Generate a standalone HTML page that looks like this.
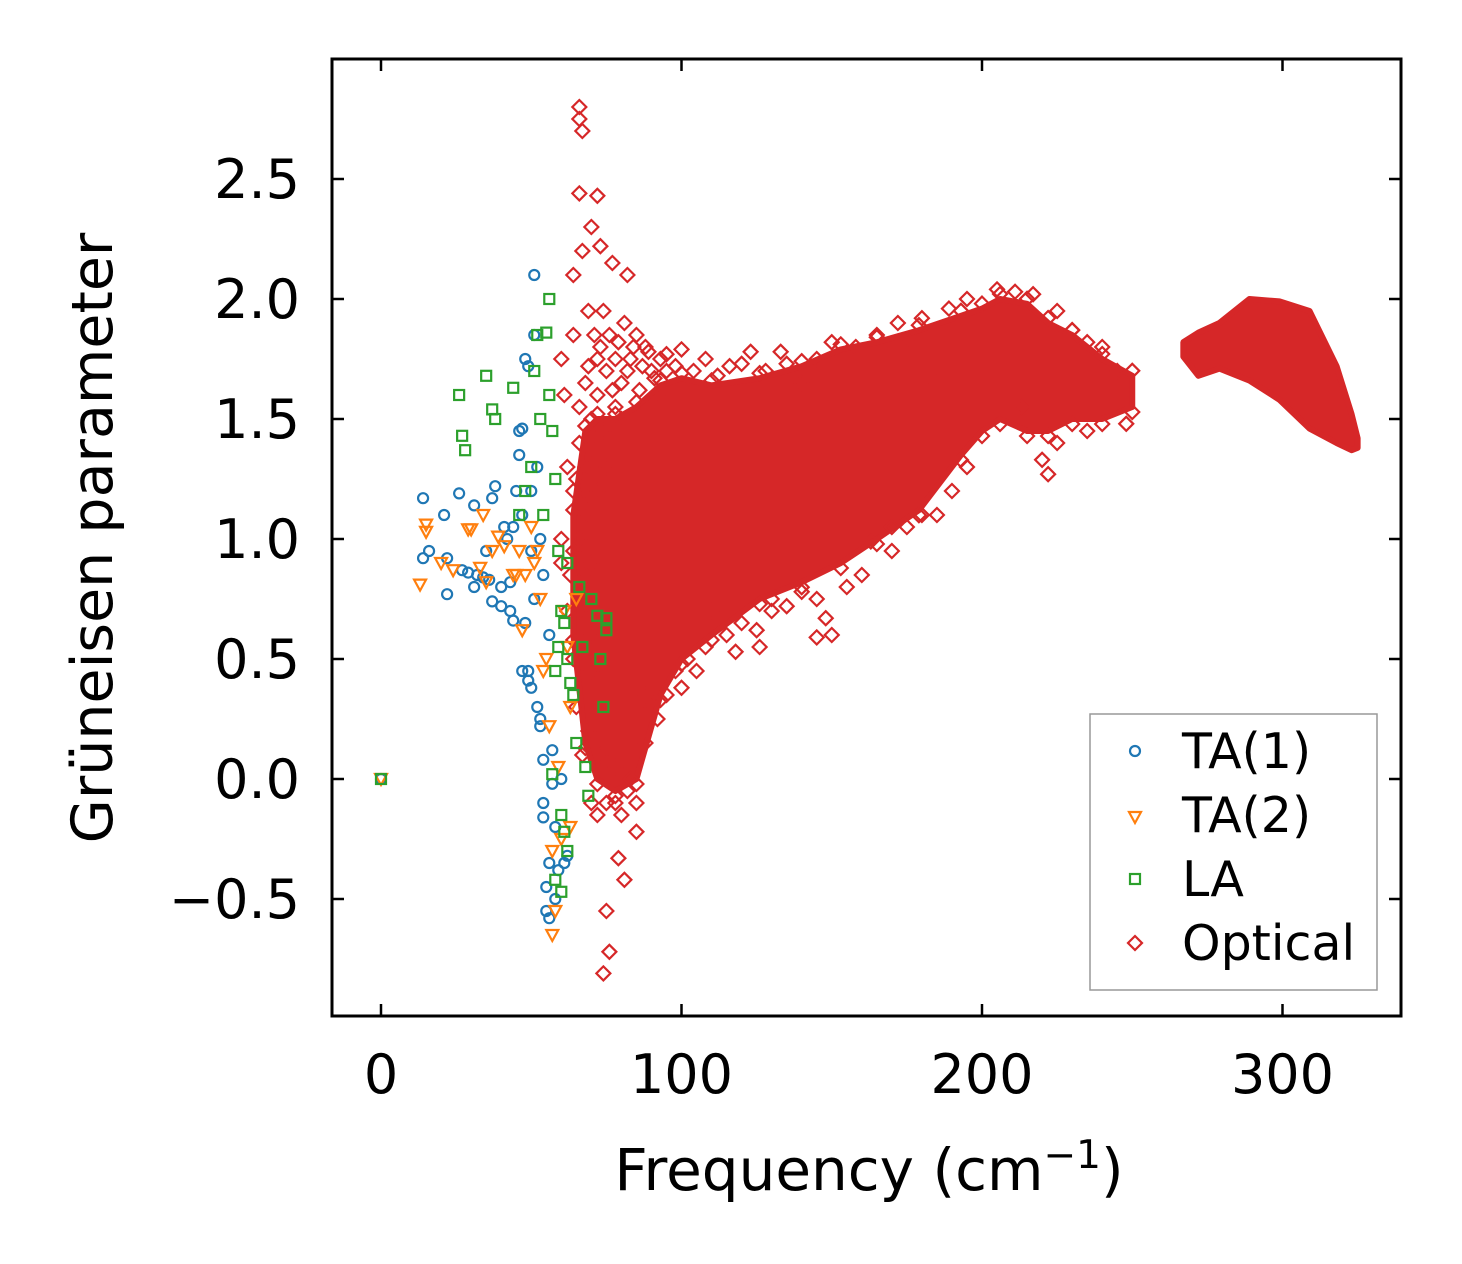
<!DOCTYPE html>
<html><head><meta charset="utf-8">
<style>
html,body{margin:0;padding:0;background:#fff;}
svg{display:block;font-family:"DejaVu Sans","Liberation Sans",sans-serif;}
</style></head>
<body>
<svg id="chart" width="1462" height="1264" viewBox="0 0 1462 1264">
<rect x="332" y="59" width="1069" height="957" fill="#fff" stroke="none"/>
<g id="marks"></g>
<rect x="332" y="59" width="1069" height="957" fill="none" stroke="#000" stroke-width="3"/>
<g id="axes"></g>
<text x="869" y="1190" font-size="58" text-anchor="middle">Frequency (cm<tspan dy="-22" font-size="39">−1</tspan><tspan dy="22">)</tspan></text>
<text transform="translate(112,538) rotate(-90)" font-size="57" text-anchor="middle">Grüneisen parameter</text>
<g>
<rect x="1090" y="714" width="287" height="276" fill="#fff" stroke="#999" stroke-width="1.5"/>
<g id="legend"></g>
</g>
</svg>
<script>
const xTicks=[0,100,200,300];
const yTicks=[-0.5,0.0,0.5,1.0,1.5,2.0,2.5];
const yTickLabels=["−0.5","0.0","0.5","1.0","1.5","2.0","2.5"];
const seriesNames=["TA(1)","TA(2)","LA","Optical"];
const ta1=[[0,0],[14,1.17],[14,0.92],[16,0.95],[21,1.1],[22,0.77],[22,0.92],[26,1.19],[27,0.87],[29,0.86],[31,1.14],[31,0.8],[32,0.85],[34,0.84],[35,0.95],[36,0.83],[37,1.17],[37,0.74],[38,1.22],[40,0.72],[40,0.8],[41,1.05],[42,1.0],[43,0.7],[43,0.82],[44,0.66],[45,1.2],[46,1.35],[46,1.45],[47,1.46],[47,0.45],[48,0.65],[48,1.75],[49,1.72],[49,0.45],[49,0.41],[50,1.2],[50,0.38],[51,2.1],[51,1.85],[51,0.75],[52,1.3],[52,0.3],[53,0.25],[53,0.22],[54,0.08],[54,-0.1],[54,-0.16],[55,-0.45],[55,-0.55],[56,-0.58],[56,-0.35],[57,-0.02],[57,0.12],[58,-0.2],[58,-0.5],[59,-0.38],[60,0.0],[61,-0.35],[62,-0.32],[53,1.0],[54,0.85],[56,0.6],[50,0.95],[47,1.1],[44,1.05]];
const ta2=[[0,0],[13,0.81],[15,1.06],[15,1.03],[20,0.9],[24,0.87],[29,1.04],[30,1.04],[33,0.88],[34,1.1],[35,0.82],[37,0.95],[39,1.01],[41,0.97],[44,0.85],[45,0.85],[46,0.95],[47,0.62],[48,0.85],[50,1.05],[51,0.9],[53,0.75],[54,0.45],[55,0.5],[56,0.22],[57,-0.3],[57,-0.65],[58,-0.55],[59,0.05],[60,-0.25],[61,0.7],[62,0.55],[63,0.3],[63,-0.2],[65,0.75],[52,0.95]];
const la=[[0,0],[26,1.6],[27,1.43],[28,1.37],[35,1.68],[37,1.54],[38,1.5],[44,1.63],[46,1.1],[48,1.2],[50,1.3],[51,1.7],[52,1.85],[53,1.5],[54,1.1],[55,1.86],[56,1.6],[56,2.0],[57,1.45],[58,1.25],[59,0.95],[60,0.7],[61,0.65],[62,0.5],[62,0.9],[63,0.4],[64,0.35],[65,0.15],[66,0.8],[67,0.55],[68,0.05],[69,-0.07],[70,0.75],[72,0.68],[73,0.5],[75,0.62],[75,0.67],[74,0.3],[60,-0.15],[62,-0.3],[58,-0.42],[60,-0.47],[61,-0.22],[57,0.02],[58,0.45],[59,0.55]];
const opticalScatter=[[66,2.8],[66,2.75],[67,2.7],[66,2.44],[72,2.43],[70,2.3],[73,2.22],[67,2.2],[77,2.15],[82,2.1],[64,2.1],[69,1.95],[64,1.85],[73,1.8],[79,1.82],[88,1.8],[95,1.77],[100,1.79],[108,1.75],[120,1.73],[123,1.78],[133,1.78],[140,1.65],[158,1.8],[175,1.83],[189,1.96],[211,2.03],[217,2.02],[230,1.87],[235,1.82],[222,1.27],[220,1.33],[213,1.55],[75,-0.55],[76,-0.72],[74,-0.81],[79,-0.33],[81,-0.42],[85,-0.22],[69,0.2],[70,-0.1],[72,-0.15],[73,0.1],[66,0.55],[61,1.6],[60,1.75],[150,0.6],[145,0.59],[148,0.67],[126,0.55],[118,0.53],[100,0.38],[92,0.25],[88,0.35],[163,0.99],[170,1.05],[185,1.1],[185,1.65],[110,0.7],[130,0.75],[140,0.78],[62,1.3],[64,1.2],[66,1.0],[60,0.9],[68,0.85],[70,0.6],[65,0.3],[67,0.1],[78,-0.1],[82,-0.05],[83,0.0]];
const opticalFringe=[[70,1.5],[72,1.6],[75,1.7],[78,1.55],[80,1.65],[83,1.75],[86,1.62],[90,1.7],[92,1.6],[95,1.7],[98,1.72],[104,1.7],[112,1.68],[116,1.72],[128,1.7],[135,1.73],[145,1.75],[150,1.82],[165,1.85],[172,1.9],[180,1.92],[195,2.0],[205,2.04],[225,1.95],[240,1.8],[245,1.7],[88,0.15],[90,0.3],[95,0.35],[98,0.45],[102,0.5],[105,0.45],[108,0.55],[115,0.6],[120,0.65],[125,0.62],[130,0.7],[135,0.72],[145,0.75],[155,0.8],[160,0.85],[170,0.95],[175,1.05],[180,1.1],[190,1.2],[195,1.3],[225,1.4],[235,1.45],[248,1.48],[60,1.0],[62,0.7],[64,0.5],[66,1.4],[68,1.1],[63,0.85],[70,0.45],[75,-0.1],[80,-0.15],[85,-0.1],[78,0.05],[68,1.3],[70,0.9],[66,0.7],[72,1.75],[76,1.85],[84,1.8],[68,1.65],[70,1.38],[74,1.45],[77,1.62],[80,1.5],[82,1.7],[85,1.85],[87,1.72],[89,1.78],[72,1.2],[75,1.3],[78,1.75],[81,1.9],[74,1.95],[71,1.85],[69,1.72],[66,1.55],[65,1.25],[67,1.15],[64,0.95],[66,0.82],[91,1.67],[93,1.75]];
const bandAFreq=[64,68,72,78,85,93,100,110,126,140,153,165,179,193,200,206,215,222,230,240,250];
const bandALow=[0.6,0.15,0.0,-0.05,0.0,0.35,0.5,0.6,0.75,0.82,0.9,1.0,1.12,1.35,1.45,1.5,1.45,1.45,1.5,1.5,1.55];
const bandAHigh=[1.1,1.45,1.5,1.5,1.55,1.64,1.67,1.64,1.67,1.72,1.79,1.82,1.87,1.93,1.96,2.0,1.98,1.9,1.85,1.75,1.68];
const bandBFreq=[267,272,279,289,299,309,318,323,325];
const bandBLow=[1.76,1.68,1.71,1.66,1.58,1.46,1.4,1.37,1.38];
const bandBHigh=[1.82,1.86,1.9,2.0,1.99,1.95,1.72,1.52,1.42];

const X0=381, XS=3.005, Y0=779, YS=240;
const sx=v=>X0+v*XS, sy=v=>Y0-v*YS;
const NS="http://www.w3.org/2000/svg";
const marks=document.getElementById('marks');
const axes=document.getElementById('axes');
function mk(tag,attrs,parent){const e=document.createElementNS(NS,tag);for(const k in attrs)e.setAttribute(k,attrs[k]);parent.appendChild(e);return e;}
const colors={TA1:"#1f77b4",TA2:"#ff7f0e",LA:"#2ca02c",OP:"#d62728"};
function marker(type,cx,cy,parent){
  let e;
  if(type==="circle") e=mk('circle',{cx:cx,cy:cy,r:5,fill:'none',stroke:colors.TA1,'stroke-width':2.2},parent);
  else if(type==="tri") e=mk('polygon',{points:`${cx-6},${cy-5} ${cx+6},${cy-5} ${cx},${cy+6}`,fill:'none',stroke:colors.TA2,'stroke-width':2.2},parent);
  else if(type==="sq") e=mk('rect',{x:cx-5,y:cy-5,width:10,height:10,fill:'none',stroke:colors.LA,'stroke-width':2.2},parent);
  else e=mk('polygon',{points:`${cx},${cy-7} ${cx+7},${cy} ${cx},${cy+7} ${cx-7},${cy}`,fill:'none',stroke:colors.OP,'stroke-width':2.2},parent);
  return e;
}
function band(fr,lo,hi,name,edgeMarks){
  let pts=[];
  for(let i=0;i<fr.length;i++)pts.push(sx(fr[i])+","+sy(hi[i]));
  for(let i=fr.length-1;i>=0;i--)pts.push(sx(fr[i])+","+sy(lo[i]));
  const p=mk('polygon',{points:pts.join(" "),fill:colors.OP,stroke:colors.OP,'stroke-width':6,'stroke-linejoin':'round'},marks);
  
  
  if(!edgeMarks)return;
  for(let i=0;i<fr.length;i++){
    const a=marker('dia',sx(fr[i]),sy(hi[i])-5,marks);
    
    
    const b=marker('dia',sx(fr[i]),sy(lo[i])+5,marks);
    
    
  }
}
band(bandAFreq,bandALow,bandAHigh,'optical-band-main',true);
band(bandBFreq,bandBLow,bandBHigh,'optical-band-high',false);
opticalFringe.forEach(d=>{const e=marker('dia',sx(d[0]),sy(d[1]),marks);
  
  });
opticalScatter.forEach(d=>{const e=marker('dia',sx(d[0]),sy(d[1]),marks);
  
  });
ta1.forEach(d=>{const e=marker('circle',sx(d[0]),sy(d[1]),marks);
  
  });
ta2.forEach(d=>{const e=marker('tri',sx(d[0]),sy(d[1]),marks);
  
  });
la.forEach(d=>{const e=marker('sq',sx(d[0]),sy(d[1]),marks);
  
  });
xTicks.forEach(v=>{const x=sx(v);
  const t1=mk('line',{x1:x,x2:x,y1:1016,y2:1004,stroke:'#000','stroke-width':2.5},axes);
  
  
  mk('line',{x1:x,x2:x,y1:59,y2:71,stroke:'#000','stroke-width':2.5},axes);
  const l=mk('text',{x:x,y:1093,'font-size':54,'text-anchor':'middle'},axes);l.textContent=v;
  
  });
yTicks.forEach((v,i)=>{const y=sy(v);
  const t1=mk('line',{x1:332,x2:344,y1:y,y2:y,stroke:'#000','stroke-width':2.5},axes);
  
  
  mk('line',{x1:1401,x2:1389,y1:y,y2:y,stroke:'#000','stroke-width':2.5},axes);
  const l=mk('text',{x:300,y:y+19,'font-size':54,'text-anchor':'end'},axes);l.textContent=yTickLabels[i];
  
  });
const lg=document.getElementById('legend');
const types=['circle','tri','sq','dia'];
seriesNames.forEach((n,i)=>{const y=751+i*64;
  const g=mk('g',{},lg);
  
  
  marker(types[i],1135,y+(types[i]==='tri'?2:0),g);
  const t=mk('text',{x:1182,y:y+17,'font-size':49},g);t.textContent=n;});
</script>
</body></html>
